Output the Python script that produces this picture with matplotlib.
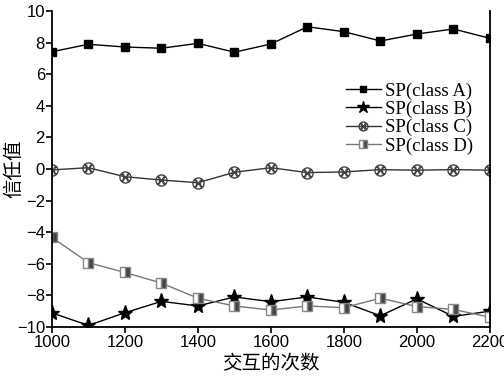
import matplotlib
matplotlib.use("Agg")
import matplotlib.pyplot as plt
from matplotlib.path import Path

plt.rcParams['font.family'] = ['Liberation Sans', 'DejaVu Sans']

x = [1000, 1100, 1200, 1300, 1400, 1500, 1600, 1700, 1800, 1900, 2000, 2100, 2200]
class_a = [7.42, 7.89, 7.72, 7.64, 7.95, 7.39, 7.91, 9.0, 8.69, 8.1, 8.54, 8.86, 8.27]
class_b = [-9.11, -9.9, -9.1, -8.38, -8.67, -8.1, -8.4, -8.1, -8.44, -9.29, -8.22, -9.33, -9.0]
class_c = [-0.06, 0.08, -0.49, -0.7, -0.87, -0.21, 0.08, -0.23, -0.19, -0.04, -0.08, -0.04, -0.08]
class_d = [-4.33, -5.93, -6.55, -7.22, -8.18, -8.67, -8.93, -8.67, -8.78, -8.18, -8.71, -8.89, -9.38]
labels = ['SP(class A)', 'SP(class B)', 'SP(class C)', 'SP(class D)']

# circle with a cross inside, like the hatched marker of class C
cross = Path([(-0.7, -0.7), (0.7, 0.7), (-0.7, 0.7), (0.7, -0.7),
              (-0.35, -0.7), (-0.35, 0.7), (0.35, -0.7), (0.35, 0.7)],
             [Path.MOVETO, Path.LINETO] * 4)
circ_x = Path.make_compound_path(Path.unit_circle(), cross)

fig = plt.figure(figsize=(5.04, 3.78), dpi=100)
ax = fig.add_axes([0.103, 0.135, 0.869, 0.836])

ax.plot(x, class_a, color='black', lw=1, marker='s', ms=6, label=labels[0])
ax.plot(x, class_b, color='black', lw=1, marker='*', ms=11, label=labels[1])
ax.plot(x, class_c, color='#333333', lw=1, marker=circ_x, ms=8, mfc='none',
        mec='#444444', mew=1, label=labels[2])
ax.plot(x, class_d, color='#777777', lw=1, marker='s', ms=7, fillstyle='right',
        markerfacecolor='#444444', markerfacecoloralt='white', markeredgecolor='#888888',
        label=labels[3])

ax.set_xlim(1000, 2200)
ax.set_ylim(-10, 10)
ax.set_xticks(range(1000, 2201, 200))
ax.set_yticks(range(-10, 11, 2))
ax.spines['top'].set_visible(False)
for s in ['left', 'bottom', 'right']:
    ax.spines[s].set_linewidth(1.3)
ax.tick_params(direction='out', labelsize=12, width=1.2, length=4, pad=1)
ax.tick_params(axis='x', pad=2)

ax.set_xlabel('交互的次数', family=['Noto Sans CJK SC'], fontsize=14, labelpad=2)
ax.set_ylabel('信任值', family=['Noto Sans CJK SC'], fontsize=14)
ax.yaxis.set_label_coords(-0.062, 0.5)

ax.legend(loc='upper right', bbox_to_anchor=(1.0, 0.827), frameon=False,
          prop={'family': 'Liberation Serif', 'size': 13.5},
          handlelength=1.9, handletextpad=0.2, labelspacing=0.05, markerscale=0.8)

fig.savefig('out.png', dpi=100)
